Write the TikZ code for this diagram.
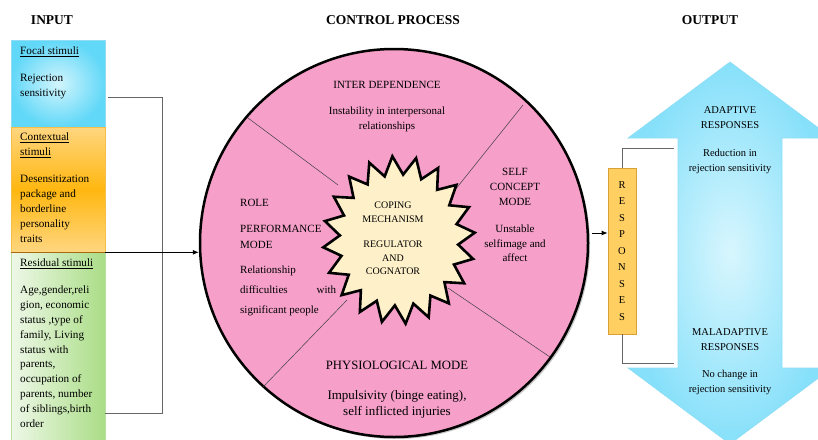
\documentclass[tikz,border=0pt]{standalone}
\usepackage{fontspec}
\setmainfont{Liberation Serif}
\usetikzlibrary{arrows.meta, calc, positioning, shadows}

\definecolor{cyandeep}{HTML}{62D8F8}
\definecolor{cyanlight}{HTML}{D2F5FD}
\definecolor{cyanline}{HTML}{8FDDF5}
\definecolor{arrowdeep}{HTML}{86E0FA}
\definecolor{arrowlight}{HTML}{D8F6FE}
\definecolor{orangedeep}{HTML}{FFB710}
\definecolor{orangelight}{HTML}{FFD680}
\definecolor{orangeline}{HTML}{F5C04A}
\definecolor{brownline}{HTML}{A86A10}
\definecolor{greendeep}{HTML}{AADD86}
\definecolor{greenlight}{HTML}{EEF8E8}
\definecolor{greenline}{HTML}{B8E0A0}
\definecolor{pinkfill}{HTML}{F59FC9}
\definecolor{starfill}{HTML}{FEF0C9}
\definecolor{respfill}{HTML}{FFCF62}
\definecolor{respline}{HTML}{D9A035}

\begin{document}
\begin{tikzpicture}[x=1pt, y=-1pt, arro/.style = {-{Latex[length=6pt,width=5pt]}, line width=0.8pt}]

\tikzstyle{head} = [font=\fontsize{13.5}{16}\selectfont\bfseries, inner sep=0pt]
\tikzstyle{box} = [rectangle, minimum width=94pt, line width=0.6pt]
\tikzstyle{txt} = [inner sep=0pt, anchor=north west, align=left, font=\fontsize{11.2}{15}\selectfont]
\tikzstyle{ctxt} = [inner sep=0pt, anchor=north, align=center, font=\fontsize{11}{15}\selectfont]
\tikzstyle{link} = [draw=black!60, line width=0.9pt]
\tikzstyle{divider} = [draw=black!75, line width=0.5pt]

\useasboundingbox (0,0) rectangle (818,439);

% headings
\node[head] at (52,20) (hin) {INPUT};
\node[head] at (393,20) (hctrl) {CONTROL PROCESS};
\node[head] at (710,20) (hout) {OUTPUT};

% input boxes
\node[box, minimum height=87pt, inner color=cyanlight, outer color=cyandeep, draw=cyanline] at (58,83.5) (focal) {};
\node[box, minimum height=125pt, top color=orangelight, bottom color=orangelight, middle color=orangedeep, draw=orangeline] at (58,189.5) (ctx) {};
\node[box, minimum height=189pt, left color=greenlight, right color=greendeep, draw=greenline] at (58,346.5) (resid) {};
\draw[brownline, line width=1.5pt] (ctx.south west) -- (ctx.south east);

% input texts
\node[txt] at (20,47) (tfocal) {\underline{Focal stimuli}};
\node[txt] at (20,74) (trej) {Rejection\\sensitivity};
\node[txt] at (20,133) (tctx) {\underline{Contextual}\\\underline{stimuli}};
\node[txt] at (20,175) (tdes) {Desensitization\\package and\\borderline\\personality\\traits};
\node[txt] at (20,259) (tres) {\underline{Residual stimuli}};
\node[txt, font=\fontsize{11.2}{14.8}\selectfont] at (20,286) (tage) {Age,gender,reli\\gion, economic\\status ,type of\\family, Living\\status with\\parents,\\occupation of\\parents, number\\of siblings,birth\\order};

% control process
\node[circle, minimum size=388pt, fill=pinkfill, draw=black, line width=2.5pt,
      drop shadow={shadow xshift=2pt, shadow yshift=-2pt, opacity=.45}] at (394,243) (ctrl) {};

% dividers
\coordinate (d1a) at (248,118);
\coordinate (d1b) at (338,185);
\coordinate (d2a) at (523,105);
\coordinate (d2b) at (447,200);
\coordinate (d3a) at (347,300);
\coordinate (d3b) at (263,387);
\coordinate (d4a) at (448,288);
\coordinate (d4b) at (550,357);
\draw[divider] (d1a) -- (d1b);
\draw[divider] (d2a) -- (d2b);
\draw[divider] (d3a) -- (d3b);
\draw[divider] (d4a) -- (d4b);

% coping star
\begin{scope}[shift={(399,240)}]
\draw[fill=starfill, draw=black, line width=2.6pt, line join=miter, miter limit=20]
  (265:76 and 84)
  \foreach \i [evaluate=\i as \r using {ifthenelse(mod(\i,2)==0,1,0.78)}] in {1,...,39} {
    -- ({265+9*\i}:{76*\r} and {84*\r})
  } -- cycle;
\end{scope}
\node[ctxt, font=\fontsize{10}{13.5}\selectfont] at (393,202) (coping) {COPING\\MECHANISM};
\node[ctxt, font=\fontsize{10}{13.5}\selectfont] at (393,241) (regul) {REGULATOR\\AND\\COGNATOR};

% modes
\node[ctxt] at (387,81) (inter) {INTER DEPENDENCE};
\node[ctxt] at (387,107) (tinter) {Instability in interpersonal\\relationships};
\node[ctxt] at (515,168) (self) {SELF\\CONCEPT\\MODE};
\node[ctxt, font=\fontsize{11}{14.5}\selectfont] at (515,225) (tself) {Unstable\\selfimage and\\affect};
\node[txt, font=\fontsize{11}{15}\selectfont] at (240,199) (role) {ROLE};
\node[txt, font=\fontsize{11}{16}\selectfont] at (240,225) (perf) {PERFORMANCE\\MODE};
\node[txt, font=\fontsize{11}{20}\selectfont] at (240,266) (trole) {Relationship\\\makebox[96pt][l]{difficulties\hfill with}\\significant people};
\node[ctxt, font=\fontsize{12.7}{16}\selectfont] at (397,361) (physio) {PHYSIOLOGICAL MODE};
\node[ctxt, font=\fontsize{13}{16}\selectfont] at (397,390) (tphysio) {Impulsivity (binge eating),\\self inflicted injuries};

% output arrow
\shade[inner color=arrowlight, outer color=arrowdeep, draw=cyanline, line width=0.6pt]
  (730,62) -- (832,138) -- (782,138) -- (782,368) -- (832,368) -- (730,444)
  -- (628,368) -- (678,368) -- (678,138) -- (628,138) -- cycle;
\node[ctxt, font=\fontsize{10.5}{15}\selectfont] at (730,106) (adapt) {ADAPTIVE\\RESPONSES};
\node[ctxt, font=\fontsize{10.5}{15}\selectfont] at (730,149) (tadapt) {Reduction in\\rejection sensitivity};
\node[ctxt, font=\fontsize{10.5}{15}\selectfont] at (730,328) (malad) {MALADAPTIVE\\RESPONSES};
\node[ctxt, font=\fontsize{10.5}{15}\selectfont] at (730,370) (tmalad) {No change in\\rejection sensitivity};

% responses
\node[rectangle, minimum width=28pt, minimum height=166pt, fill=respfill, draw=respline, line width=0.8pt,
      align=center, font=\fontsize{10.5}{16.5}\selectfont] at (622,251) (resp) {R\\E\\S\\P\\O\\N\\S\\E\\S};

% connections
\coordinate (fo) at (108,97);
\coordinate (bus) at (162,413);
\coordinate (re) at (105,413);
\draw[link] (fo) -| (bus) -- (re);
\draw[arro] (ctx.south east) -- (ctx.south east -| ctrl.west);
\coordinate (cr) at (592,233);
\draw[arro] (cr) -- (cr -| resp.west);
\coordinate (up) at (674,148);
\coordinate (down) at (674,363);
\draw[link] (resp.north) |- (up);
\draw[link] (resp.south) |- (down);
\end{tikzpicture}
\end{document}
